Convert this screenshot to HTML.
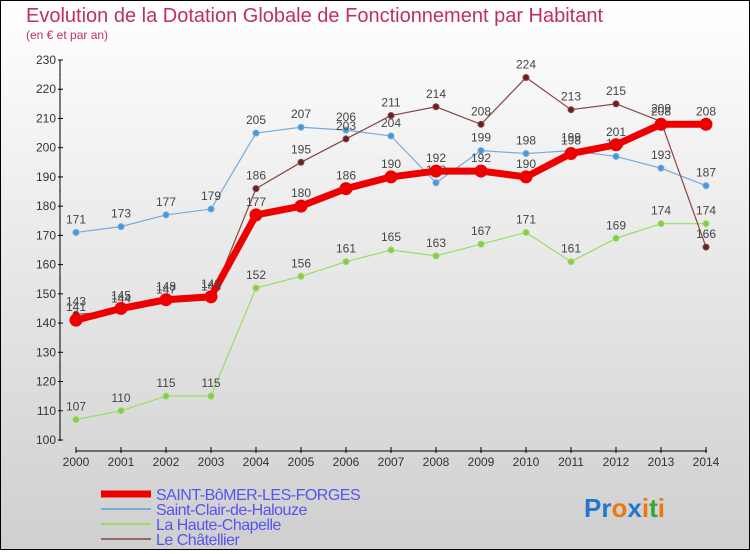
<!DOCTYPE html>
<html><head><meta charset="utf-8"><style>
body{margin:0}
#c{width:748px;height:548px;border:1px solid #000;background:linear-gradient(#fff,#cfcfcf);position:relative;font-family:"Liberation Sans",sans-serif}
</style></head><body>
<div id="c">
<svg id="s" width="748" height="548"></svg>
</div>
<script>
const years=[2000,2001,2002,2003,2004,2005,2006,2007,2008,2009,2010,2011,2012,2013,2014];
const yTicks=[100,110,120,130,140,150,160,170,180,190,200,210,220,230];
const saintBomer=[141,145,148,149,177,180,186,190,192,192,190,198,201,208,208];
const saintClair=[171,173,177,179,205,207,206,204,188,199,198,199,197,193,187];
const hauteChapelle=[107,110,115,115,152,156,161,165,163,167,171,161,169,174,174];
const chatellier=[143,144,147,148,186,195,203,211,214,208,224,213,215,209,166];
const seriesNames=["SAINT-BôMER-LES-FORGES","Saint-Clair-de-Halouze","La Haute-Chapelle","Le Châtellier"];
const NS="http://www.w3.org/2000/svg",s=document.getElementById('s');
const X=i=>75+i*45, Y=v=>439-(v-100)*(380/130);
function el(t,a,p){const e=document.createElementNS(NS,t);for(const k in a)e.setAttribute(k,a[k]);(p||s).appendChild(e);return e}
let t=el('text',{x:25,y:21,fill:'#c0305a','font-size':20});t.textContent="Evolution de la Dotation Globale de Fonctionnement par Habitant";

t=el('text',{x:25,y:38,fill:'#c0305a','font-size':12});t.textContent="(en € et par an)";

let a=el('line',{x1:59,y1:59,x2:59,y2:440,stroke:'#000'});

yTicks.forEach((v,i)=>{const y=Y(v);el('line',{x1:57,x2:62,y1:y,y2:y,stroke:'#000'});
 if(i<yTicks.length-1)el('line',{x1:58,x2:59,y1:y-14.6,y2:y-14.6,stroke:'red'});
 const l=el('text',{x:55,y:y+4,'text-anchor':'end','font-size':12,fill:'#333'});l.textContent=v;
 });
a=el('line',{x1:75,y1:450,x2:706,y2:450,stroke:'#000'});

years.forEach((yr,i)=>{el('line',{x1:X(i),x2:X(i),y1:446,y2:452,stroke:'#000'});
 const l=el('text',{x:X(i),y:465,'text-anchor':'middle','font-size':12,fill:'#333'});l.textContent=yr;
 });
function series(d,col,w,r,name,dot){
 const p=el('polyline',{points:d.map((v,i)=>X(i)+','+Y(v)).join(' '),fill:'none',stroke:col,'stroke-width':w,'stroke-linejoin':'round'});
 
 d.forEach((v,i)=>{const c=el('circle',{cx:X(i),cy:Y(v),r:r,fill:dot,stroke:col,'stroke-width':1});
  
  const l=el('text',{x:X(i),y:Y(v)-9,'text-anchor':'middle','font-size':12,fill:'#444'});l.textContent=v;
  });
}
series(hauteChapelle,'#99dd66',1.2,3,'haute-chapelle','#88cc44');
series(saintClair,'#77aadd',1.2,3,'saint-clair','#4499dd');
series(chatellier,'#884444',1.2,3,'chatellier','#662222');
series(saintBomer,'#ee0000',7,6,'saint-bomer','#ee0000');
const lg=[['#ee0000',7],['#77aadd',2],['#99dd66',2],['#996666',2]];
lg.forEach((c,i)=>{const y=[493,508,523,538][i];
 const r=el('line',{x1:100,x2:150,y1:y,y2:y,stroke:c[0],'stroke-width':c[1]});
 
 const l=el('text',{x:155,y:y+6,'font-size':16,fill:'#5555ee','letter-spacing':-0.5});l.textContent=seriesNames[i];
 });
const lo=[['P','#2277cc'],['r','#2277cc'],['o','#ee7711'],['x','#2277cc'],['i','#ee7711'],['t','#33aa33'],['i','#ee7711']];
const g=el('text',{x:583,y:516,'font-size':26,'font-weight':'bold'});

lo.forEach(q=>{const ts=el('tspan',{fill:q[1]},g);ts.textContent=q[0];});
</script>
</body></html>
